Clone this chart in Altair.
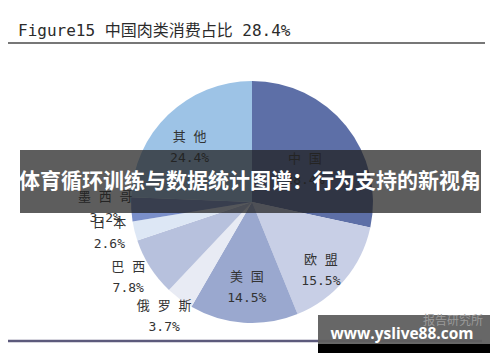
import altair as alt
import pandas as pd

# ---- data ----
names = ["中国", "欧盟", "美国", "俄罗斯", "巴西", "日本", "墨西哥", "其他"]
shares = [28.4, 15.5, 14.5, 3.7, 7.8, 2.6, 3.2, 24.4]
colors = ["#5d6fa7", "#c8cfe6", "#9aa8cf", "#e8ebf4", "#b7c1dd", "#dde7f5", "#7a8fca", "#9dc3e6"]
title_text = "Figure15 中国肉类消费占比 28.4%"
banner_text = "体育循环训练与数据统计图谱：行为支持的新视角"
wm_text = "www.yslive88.com"
wm_sub = "报告研究所"

df = pd.DataFrame({
    "name": names,
    "share": shares,
    "idx": list(range(len(names))),
    "lab": [" ".join(n) for n in names],
})

R = 121
one = pd.DataFrame({"a": [0]})

base = alt.Chart(df).encode(
    theta=alt.Theta("share:Q", stack=True),
    order=alt.Order("idx:Q"),
)

pie = base.mark_arc(radius=R).encode(
    color=alt.Color("name:N", scale=alt.Scale(domain=names, range=colors), legend=None),
)

labels = base.transform_calculate(
    txt="datum.lab + '\\n' + format(datum.share, '.1f') + '%'",
).mark_text(
    font="DejaVu Sans Mono, Noto Sans CJK SC",
    fontSize=13,
    lineBreak="\n",
    lineHeight=21,
    align="center",
    baseline="middle",
    color="#333333",
    radius=alt.ExprRef(
        "datum.share < 10 ? 147 : (datum.share < 15 ? 75 : (datum.share < 25 ? 90 : 68))"),
    dy=alt.ExprRef("datum.share < 10 ? -14 : 0"),
).encode(
    text="txt:N",
)

title = alt.Chart(one).mark_text(
    font="DejaVu Sans Mono, Noto Sans CJK SC", fontSize=16, align="left",
    baseline="alphabetic", color="#2b2b2b",
).encode(x=alt.value(6), y=alt.value(-20), text=alt.value(title_text))

top_line = alt.Chart(one).mark_rule(color="#4a4a4a", strokeWidth=1.5).encode(
    x=alt.value(-4), x2=alt.value(473), y=alt.value(-13))

bottom_line = alt.Chart(one).mark_rule(color="#5c5a7c", strokeWidth=2.5).encode(
    x=alt.value(-4), x2=alt.value(470), y=alt.value(285))

banner = alt.Chart(one).mark_rect(color="#1e1e1e", opacity=0.72).encode(
    x=alt.value(8), x2=alt.value(469), y=alt.value(94), y2=alt.value(157))

banner_t = alt.Chart(one).mark_text(
    font="Noto Sans CJK SC", fontWeight="bold", fontSize=21, color="white",
    align="center", baseline="middle",
).encode(x=alt.value(238), y=alt.value(126), text=alt.value(banner_text))

wm_gray = alt.Chart(one).mark_rect(color="#5f5f5f", opacity=0.95).encode(
    x=alt.value(306), x2=alt.value(478), y=alt.value(259), y2=alt.value(288))
wm_black = alt.Chart(one).mark_rect(color="#000000").encode(
    x=alt.value(306), x2=alt.value(478), y=alt.value(288), y2=alt.value(297))
wm_sub_t = alt.Chart(one).mark_text(
    font="Noto Sans CJK SC", fontSize=12, color="#9a9a9a", align="center", baseline="middle",
).encode(x=alt.value(441), y=alt.value(265), text=alt.value(wm_sub))
wm_t = alt.Chart(one).mark_text(
    font="Open Sans", fontWeight="bold", fontSize=15.5, color="white", align="center", baseline="middle",
).encode(x=alt.value(390), y=alt.value(278), text=alt.value(wm_text))

chart = alt.layer(
    pie, labels, title, top_line, bottom_line, banner, banner_t,
    wm_gray, wm_black, wm_sub_t, wm_t,
).properties(
    width=480, height=292,
    autosize=alt.AutoSizeParams(type="none"),
    padding={"left": 4, "top": 48, "right": 0, "bottom": 5},
    background="white",
).configure_view(stroke=None)

chart.save("out.html", embed_options={"renderer": "svg", "actions": False})
